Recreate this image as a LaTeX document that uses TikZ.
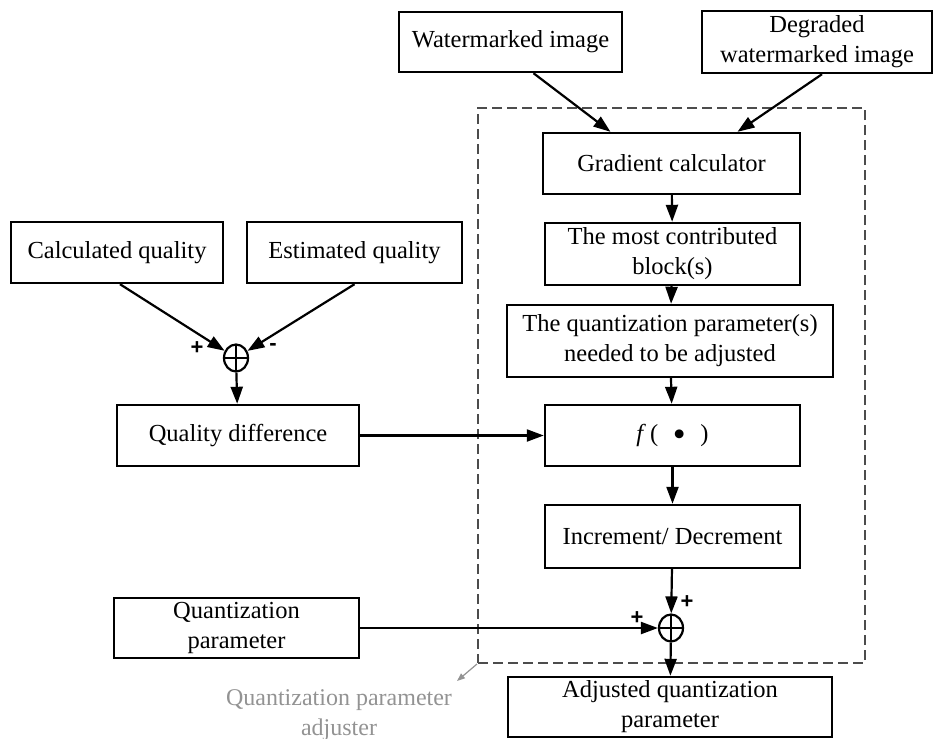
\documentclass[tikz,border=0pt]{standalone}
\usepackage{fontspec}
\setmainfont{Liberation Serif}
\newfontfamily\signfont{Liberation Sans}
\usetikzlibrary{arrows.meta,shapes.geometric}
\begin{document}
\begin{tikzpicture}[x=1pt,y=-1pt,
  block/.style={draw, line width=2.4pt, inner sep=0pt, align=center,
    font=\fontsize{24.5}{30}\selectfont},
  arr/.style={line width=2.2pt, -{Triangle[length=17pt,width=12pt]}},
  summer/.style={draw, ellipse, line width=2.2pt, minimum width=24pt,
    minimum height=27pt, inner sep=0pt,
    path picture={\draw[line width=2.2pt]
      (path picture bounding box.north) -- (path picture bounding box.south)
      (path picture bounding box.west) -- (path picture bounding box.east);}},
  sign/.style={font=\signfont\bfseries\fontsize{22}{22}\selectfont, inner sep=0pt},
  frame/.style={draw=gray!60!black, dash pattern=on 10pt off 5pt, line width=2pt,
    inner sep=0pt},
  note/.style={text=gray!85, align=center, font=\fontsize{24}{30}\selectfont},
  notearr/.style={draw=gray!85, line width=1.2pt, -{Triangle[length=8pt,width=6pt]}},
  ]
\useasboundingbox (0,0) rectangle (935,739);

% adjuster boundary
\node[frame, minimum width=387pt, minimum height=555pt] (frame) at (671.5,385.5) {};

% inputs
\node[block, minimum width=223pt, minimum height=60pt] (wm) at (510.5,42) {Watermarked image};
\node[block, minimum width=230pt, minimum height=62pt] (deg) at (817,42) {Degraded\\watermarked image};
\node[block, minimum width=212pt, minimum height=61pt] (calc) at (117,252.5) {Calculated quality};
\node[block, minimum width=215pt, minimum height=61pt] (est) at (354.5,252.5) {Estimated quality};

% quality comparison
\node[summer] (sum1) at (236,358) {};
\node[sign] (p1) at (197,348) {+};
\node[sign] (m1) at (273,347) {-};
\node[block, minimum width=242pt, minimum height=61pt] (qd) at (238,435.5) {Quality difference};

% adjuster chain
\node[block, minimum width=257pt, minimum height=61pt] (grad) at (671.5,163.5) {Gradient calculator};
\node[block, minimum width=255pt, minimum height=62pt] (most) at (672.5,254) {The most contributed\\block(s)};
\node[block, minimum width=326pt, minimum height=72pt] (qps) at (670,341) {The quantization parameter(s)\\needed to be adjusted};
\node[block, minimum width=255pt, minimum height=61pt] (fbox) at (672.5,435.5)
  {\textit{f}\,(\hspace{0.6em}\raisebox{-0.2em}{\scalebox{1.5}{•}}\hspace{0.6em})};
\node[block, minimum width=255pt, minimum height=63pt] (inc) at (672.5,536.5) {Increment/ Decrement};
\node[summer] (sum2) at (671,628) {};
\node[sign] (p2) at (687,602) {+};
\node[sign] (p3) at (637,618) {+};

% parameter in and out
\node[block, minimum width=245pt, minimum height=60pt] (qp) at (236.5,628) {Quantization\\parameter};
\node[block, minimum width=324pt, minimum height=60pt] (adj) at (670,707) {Adjusted quantization\\parameter};

% annotation
\node[note] (adjlabel) at (339,715) {Quantization parameter\\adjuster};
\coordinate (notetip) at (457,681);
\draw[notearr] (frame.south west) -- (notetip);

% connectors
\draw[arr] ([xshift=23pt]wm.south) -- ([xshift=-61pt]grad.north);
\draw[arr] ([xshift=5pt]deg.south) -- ([xshift=66pt]grad.north);
\draw[arr] (grad) -- (most);
\draw[arr] (most) -- (qps);
\draw[arr] (qps) -- (fbox);
\draw[arr] (fbox) -- (inc);
\draw[arr] (inc) -- (sum2);
\draw[arr] (sum2) -- (adj);
\draw[arr] (qp.east) -- (sum2.west);
\draw[arr] ([xshift=3pt]calc.south) -- (sum1);
\draw[arr] (est.south) -- (sum1);
\draw[arr] (sum1) -- (qd);
\draw[arr] (qd.east) -- (fbox.west);
\end{tikzpicture}
\end{document}
